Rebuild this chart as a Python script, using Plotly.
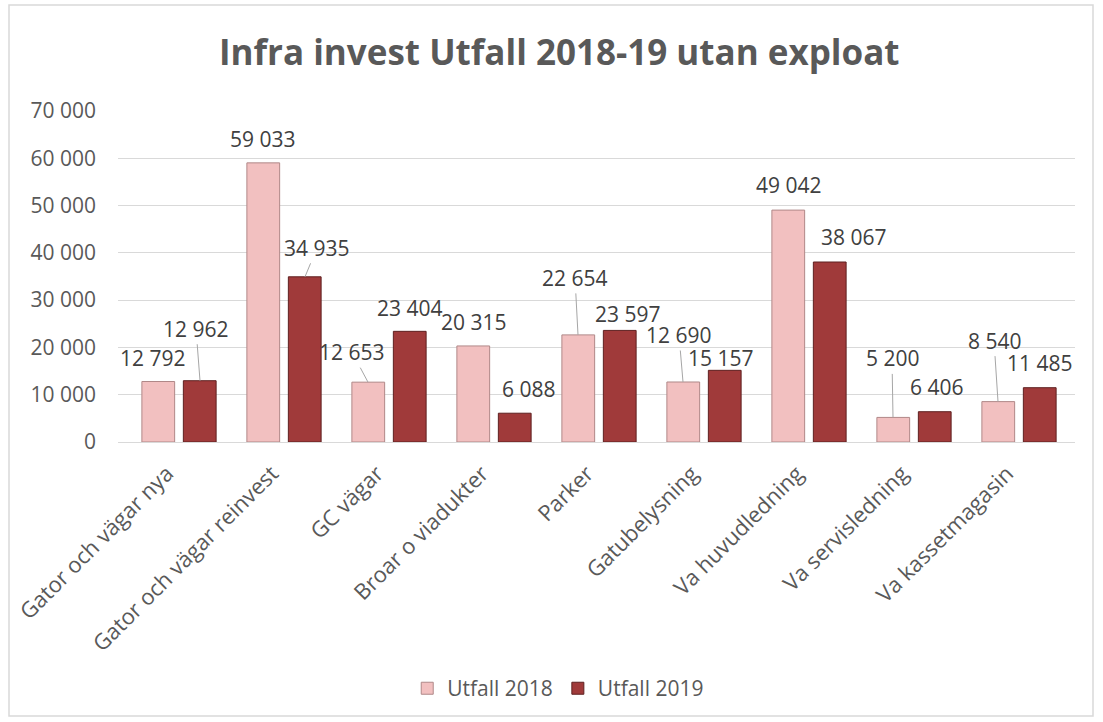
import plotly.graph_objects as go

# categories and values (tkr)
kategorier = ["Gator och vägar nya", "Gator och vägar reinvest", "GC vägar",
              "Broar o viadukter", "Parker", "Gatubelysning", "Va huvudledning",
              "Va servisledning", "Va kassetmagasin"]
utfall_2018 = [12792, 59033, 12653, 20315, 22654, 12690, 49042, 5200, 8540]
utfall_2019 = [12962, 34935, 23404, 6088, 23597, 15157, 38067, 6406, 11485]
y_ticks = [0, 10000, 20000, 30000, 40000, 50000, 60000, 70000]

# label placement relative to bar top (px): dx, dy, leader line
lbl_2018 = [(-5, -24, 0), (0, -24, 0), (-16, -30, 1), (1, -24, 0), (-3, -57, 1),
            (-4, -47, 1), (1, -25, 0), (-1, -59, 1), (-4, -61, 1)]
lbl_2019 = [(-4, -52, 1), (12, -29, 1), (0, -23, 0), (13, -24, 0), (8, -16, 0),
            (-4, -12, 0), (24, -25, 0), (1, -25, 0), (0, -25, 0)]

FONT = "Open Sans"
GREY = "#595959"


def fmt(v):
    return f"{v:,}".replace(",", " ")


fig = go.Figure()
fig.add_trace(go.Bar(name="Utfall 2018", x=kategorier, y=utfall_2018,
                     marker=dict(color="#F2C0C0", line=dict(color="#B08888", width=1))))
fig.add_trace(go.Bar(name="Utfall 2019", x=kategorier, y=utfall_2019,
                     marker=dict(color="#A03A3A", line=dict(color="#5E2020", width=1))))

annots = []
for vals, lbls, shift in [(utfall_2018, lbl_2018, -21), (utfall_2019, lbl_2019, 21)]:
    for kat, v, (dx, dy, leader) in zip(kategorier, vals, lbls):
        annots.append(dict(
            x=kat, y=v, xref="x", yref="y", xshift=shift,
            text=fmt(v), showarrow=True, ax=dx, ay=dy,
            arrowhead=0, arrowwidth=1, standoff=0, startstandoff=0,
            arrowcolor="#A6A6A6" if leader else "rgba(0,0,0,0)",
            font=dict(family=FONT, size=21, color="#404040")))

fig.update_layout(
    width=1103, height=722,
    margin=dict(l=118, r=28, t=111, b=280),
    paper_bgcolor="white", plot_bgcolor="white",
    separators=", ",
    title=dict(text="<b>Infra invest Utfall 2018-19 utan exploat</b>",
               x=0.507, xref="container", y=0.927, yanchor="middle",
               font=dict(family=FONT, size=35, color=GREY)),
    barmode="group", bargap=0.21, bargroupgap=0.21,
    font=dict(family=FONT, size=21, color=GREY),
    xaxis=dict(tickangle=-45, showline=True, linecolor="#D9D9D9", linewidth=1,
               ticks="", ticklabelstandoff=9, ticklabelshift=-12,
               tickfont=dict(family=FONT, size=22, color=GREY)),
    yaxis=dict(range=[0, 70000], tickvals=y_ticks, tickformat=",d",
               gridcolor="#D9D9D9", gridwidth=1, zeroline=False,
               ticks="", ticklabelstandoff=21,
               tickfont=dict(family=FONT, size=21, color=GREY)),
    legend=dict(orientation="h", x=0.46, xanchor="center", y=-0.745, yanchor="middle",
                font=dict(family=FONT, size=21, color=GREY), itemwidth=30),
    annotations=annots,
    shapes=[dict(type="rect", xref="paper", yref="paper",
                 x0=-109 / 957, x1=1 + 18 / 957, y0=-274 / 331, y1=1 + 106 / 331,
                 line=dict(color="#D9D9D9", width=1.5), layer="below")],
)

fig.write_html("out.html", config={"displayModeBar": False},
               post_script="document.body.style.margin='0px';")
